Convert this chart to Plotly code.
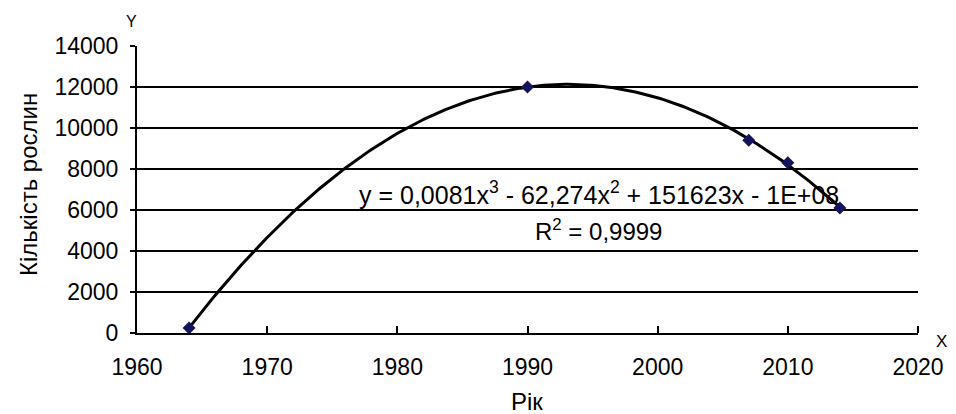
import numpy as np
import plotly.graph_objects as go

years = [1964, 1990, 2007, 2010, 2014]
plants = [250, 12000, 9400, 8300, 6100]

x_ticks = [1960, 1970, 1980, 1990, 2000, 2010, 2020]
y_ticks = [0, 2000, 4000, 6000, 8000, 10000, 12000, 14000]

eq_text = "y = 0,0081x<sup>3</sup> - 62,274x<sup>2</sup> + 151623x - 1E+08"
r2_text = "R<sup>2</sup> = 0,9999"
x_title = "Рік"
y_title = "Кількість рослин"

# cubic trendline fitted to the data (centred for numerical stability)
xc = np.array(years, dtype=float) - 1990
coef = np.polyfit(xc, np.array(plants, dtype=float), 3)
xf = np.linspace(min(years), max(years), 300)
yf = np.polyval(coef, xf - 1990)

FONT = "Liberation Sans, Arial, sans-serif"
L, R, T, B = 137, 38, 46, 81
W, H = 956, 414
pw, ph = W - L - R, H - T - B


def px(x):
    return (x - L) / pw


def py(y):
    return 1 - (y - T) / ph


fig = go.Figure()
fig.add_trace(go.Scatter(x=xf, y=yf, mode="lines",
                         line=dict(color="black", width=3),
                         hoverinfo="skip", showlegend=False))
fig.add_trace(go.Scatter(x=years, y=plants, mode="markers",
                         marker=dict(symbol="diamond", size=10, color="#14145a"),
                         showlegend=False))

fig.update_layout(
    width=W, height=H,
    margin=dict(l=L, r=R, t=T, b=B),
    paper_bgcolor="white", plot_bgcolor="white",
    font=dict(family=FONT, size=23, color="black"),
    xaxis=dict(range=[1960, 2020], tickvals=x_ticks, ticktext=[str(v) for v in x_ticks],
               ticks="inside", ticklen=7, tickcolor="black", tickwidth=2,
               showgrid=False, zeroline=False, showline=True, linecolor="black",
               linewidth=2, ticklabelstandoff=12, tickfont=dict(size=23)),
    yaxis=dict(range=[0, 14000], tickvals=y_ticks, ticktext=[str(v) for v in y_ticks],
               ticks="outside", ticklen=5, tickcolor="black", tickwidth=2,
               showgrid=True, gridcolor="black", gridwidth=2, zeroline=False,
               showline=True, linecolor="black", linewidth=2,
               ticklabelstandoff=7, tickfont=dict(size=23)),
    annotations=[
        dict(x=px(599), y=py(193), xref="paper", yref="paper", text=eq_text,
             showarrow=False, font=dict(size=25), xanchor="center", yanchor="middle"),
        dict(x=px(598), y=py(230), xref="paper", yref="paper", text=r2_text,
             showarrow=False, font=dict(size=24), xanchor="center", yanchor="middle"),
        dict(x=px(527), y=py(401), xref="paper", yref="paper", text=x_title,
             showarrow=False, font=dict(size=24), xanchor="center", yanchor="middle"),
        dict(x=px(28), y=py(185), xref="paper", yref="paper", text=y_title,
             showarrow=False, font=dict(size=24), textangle=-90,
             xanchor="center", yanchor="middle"),
        dict(x=px(131), y=py(21), xref="paper", yref="paper", text="Y",
             showarrow=False, font=dict(size=16), xanchor="center", yanchor="middle"),
        dict(x=px(941), y=py(341), xref="paper", yref="paper", text="X",
             showarrow=False, font=dict(size=17), xanchor="center", yanchor="middle"),
    ],
)

# right-end tick on x-axis
fig.add_shape(type="line", xref="paper", yref="paper", x0=1, x1=1, y0=0, y1=7 / ph,
              line=dict(color="black", width=2))

fig.write_html("out.html")
